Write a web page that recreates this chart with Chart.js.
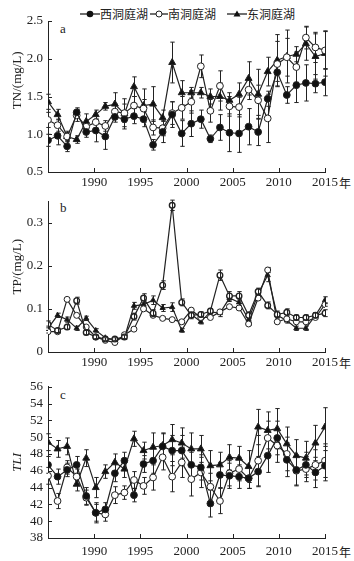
<!DOCTYPE html>
<html><head><meta charset="utf-8">
<script src="https://cdn.jsdelivr.net/npm/chart.js@4"></script>
<style>
html,body{margin:0;padding:0;background:#fff;width:354px;height:561px;overflow:hidden;position:relative;}
canvas{position:absolute;left:0;}
.leg{position:absolute;top:6px;height:16px;line-height:16px;font-family:"Noto Sans CJK SC",sans-serif;font-size:12px;color:#222;white-space:nowrap;}
.leg svg{position:absolute;top:3px;}
.plab{position:absolute;font-family:"Liberation Serif",serif;font-size:13px;color:#222;line-height:14px;}
.unit{position:absolute;left:339px;font-family:"Noto Sans CJK SC",sans-serif;font-size:12px;line-height:16px;color:#222;}
</style></head>
<body>
<div class="leg" style="left:80px;width:70px;"><svg width="20" height="10"><line x1="0" y1="5" x2="20" y2="5" stroke="#222" stroke-width="1.3"/><circle cx="10" cy="5" r="3.3" fill="#111"/></svg><span style="position:absolute;left:20px;">西洞庭湖</span></div>
<div class="leg" style="left:150px;width:70px;"><svg width="18" height="10"><line x1="0" y1="5" x2="18" y2="5" stroke="#222" stroke-width="1.3"/><circle cx="9" cy="5" r="3" fill="#fff" stroke="#222" stroke-width="1"/></svg><span style="position:absolute;left:18px;">南洞庭湖</span></div>
<div class="leg" style="left:227px;width:70px;"><svg width="20" height="10"><line x1="0" y1="5" x2="20" y2="5" stroke="#222" stroke-width="1.3"/><polygon points="10,1.5 13.5,7.5 6.5,7.5" fill="#111"/></svg><span style="position:absolute;left:20px;">东洞庭湖</span></div>
<div class="plab" style="left:60px;top:22px;">a</div>
<div class="plab" style="left:60px;top:201px;">b</div>
<div class="plab" style="left:60px;top:388px;">c</div>
<div class="unit" style="top:175px;">年</div>
<div class="unit" style="top:355px;">年</div>
<div class="unit" style="top:544px;">年</div>
<canvas id="cA" width="354" height="192" style="top:0px"></canvas>
<canvas id="cB" width="354" height="192" style="top:180px"></canvas>
<canvas id="cC" width="354" height="192" style="top:366px"></canvas>
<script>
// ---- data ----
const lakes = ['西洞庭湖', '南洞庭湖', '东洞庭湖'];
const years = [1986,1987,1988,1989,1990,1991,1992,1993,1994,1995,1996,1997,1998,1999,2000,2001,2002,2003,2004,2005,2006,2007,2008,2009,2010,2011,2012,2013,2014,2015];
const xTickYears = [1990, 1995, 2000, 2005, 2010, 2015];
const xTickLabels = ['1990', '1995', '2000', '2005', '2010', '2015'];

const westTN  = [0.92,0.98,0.84,1.29,1.03,1.05,0.97,1.23,1.20,1.24,1.20,0.86,1.03,1.26,1.01,1.14,1.20,0.94,1.09,1.02,1.01,1.10,1.03,1.47,1.82,1.52,1.65,1.68,1.67,1.69];
const southTN = [1.19,1.12,0.97,1.25,1.10,1.16,1.11,1.30,1.28,1.38,1.34,1.09,1.08,1.28,1.35,1.43,1.90,1.31,1.64,1.37,1.36,1.59,1.45,1.21,1.93,2.02,1.89,2.28,2.15,2.11];
const eastTN  = [1.43,1.26,0.97,0.93,1.17,1.26,1.37,1.40,1.27,1.63,1.38,1.40,1.22,1.95,1.55,1.55,1.55,1.50,1.50,1.45,1.53,1.74,1.53,1.83,1.98,2.03,2.06,2.20,2.03,2.07];
const westTNerr  = [0.08,0.12,0.07,0.06,0.07,0.15,0.17,0.07,0.10,0.10,0.10,0.07,0.14,0.17,0.17,0.17,0.12,0.05,0.17,0.25,0.25,0.24,0.18,0.10,0.12,0.11,0.23,0.24,0.12,0.18];
const southTNerr = [0.10,0.08,0.05,0.08,0.08,0.08,0.07,0.10,0.12,0.12,0.12,0.10,0.10,0.15,0.15,0.15,0.15,0.15,0.20,0.13,0.13,0.13,0.20,0.32,0.30,0.25,0.20,0.15,0.20,0.25];
const eastTNerr  = [0.10,0.07,0.07,0.05,0.10,0.06,0.05,0.15,0.20,0.13,0.22,0.23,0.10,0.27,0.16,0.07,0.07,0.10,0.18,0.10,0.15,0.22,0.33,0.19,0.34,0.35,0.10,0.22,0.30,0.30];

const westTP  = [0.064,0.050,0.058,0.119,0.045,0.035,0.030,0.030,0.035,0.082,0.125,0.090,0.155,0.340,0.115,0.085,0.087,0.095,0.178,0.130,0.130,0.085,0.140,0.108,0.087,0.092,0.080,0.080,0.085,0.090];
const southTP = [0.047,0.047,0.122,0.085,0.058,0.035,0.027,0.022,0.040,0.053,0.100,0.085,0.078,0.075,0.070,0.097,0.080,0.080,0.093,0.105,0.102,0.065,0.125,0.190,0.070,0.077,0.070,0.070,0.080,0.110];
const eastTP  = [0.055,0.085,0.075,0.055,0.078,0.050,0.033,0.028,0.033,0.107,0.110,0.120,0.102,0.104,0.050,0.087,0.070,0.093,0.090,0.125,0.115,0.075,0.135,0.178,0.085,0.073,0.055,0.055,0.085,0.120];
const westTPerr  = [0.008,0.005,0.006,0.008,0.005,0.004,0.003,0.003,0.004,0.008,0.010,0.008,0.010,0.012,0.008,0.008,0.006,0.006,0.012,0.010,0.010,0.008,0.008,0.008,0.008,0.008,0.006,0.006,0.006,0.008];
const southTPerr = [0.003,0.003,0.003,0.003,0.003,0.003,0.002,0.002,0.003,0.003,0.004,0.003,0.003,0.003,0.003,0.004,0.003,0.003,0.003,0.004,0.004,0.003,0.004,0.006,0.003,0.003,0.003,0.003,0.003,0.004];
const eastTPerr  = [0.005,0.005,0.006,0.005,0.005,0.004,0.003,0.003,0.003,0.008,0.010,0.010,0.008,0.010,0.004,0.006,0.005,0.006,0.008,0.008,0.008,0.006,0.008,0.015,0.006,0.006,0.005,0.005,0.006,0.008];

const westTLI  = [46.7,45.3,46.1,46.7,43.0,41.0,41.4,45.7,47.2,43.1,46.8,47.2,48.9,48.4,48.4,46.7,46.4,42.1,45.5,45.4,45.3,45.1,45.9,47.8,49.9,47.3,46.1,46.7,45.8,46.6];
const southTLI = [45.4,42.4,46.4,45.3,42.8,41.0,40.8,43.1,43.4,44.9,44.2,45.2,47.6,45.3,47.0,45.0,45.8,44.1,42.4,45.7,46.2,45.1,47.2,49.9,49.0,48.0,46.0,46.2,46.7,47.2];
const eastTLI  = [49.4,48.6,48.9,44.4,47.5,44.0,45.9,47.0,46.2,49.8,48.4,48.8,49.0,49.7,49.3,48.6,48.6,46.6,46.7,47.6,47.5,46.5,51.2,50.8,51.0,49.2,47.8,47.5,49.3,51.2];
const westTLIerr  = [1.0,0.9,0.8,1.0,1.0,1.2,0.8,1.0,1.0,0.8,1.0,1.5,1.5,1.8,1.8,1.5,1.5,1.6,1.5,1.5,1.4,1.2,1.8,2.0,2.0,2.0,1.8,1.5,1.8,1.8];
const southTLIerr = [1.0,0.9,0.8,0.9,0.9,1.0,0.8,1.0,0.8,1.0,1.0,1.5,1.5,1.8,1.8,2.0,1.8,1.6,1.5,1.5,1.4,1.2,3.0,2.0,2.0,2.0,1.8,1.5,1.8,2.0];
const eastTLIerr  = [1.0,1.0,1.0,0.8,1.0,1.2,0.8,1.0,1.0,0.9,1.0,1.7,1.5,1.8,1.8,1.9,1.6,1.8,1.5,1.5,1.4,1.9,2.1,2.2,2.4,2.0,1.9,2.0,2.1,2.3];

const yTicksA = [0.5, 1.0, 1.5, 2.0, 2.5];
const yTicksB = [0, 0.1, 0.2, 0.3];
const yTicksC = [38, 40, 42, 44, 46, 48, 50, 52, 54, 56];

// ---- helpers ----
const INK = '#222';
const FONT = "'Liberation Serif', 'Noto Sans CJK SC', serif";
Chart.defaults.font.family = FONT;
Chart.defaults.font.size = 13;
Chart.defaults.color = INK;

const nX = years.length - 1;
function yearToX(yr) { return (yr - (years[0] - 1)) * nX / (years.length); }
function pts(arr) { return arr.map((v, i) => ({ x: i, y: v })); }

const errPlugin = {
  id: 'errbars',
  _bars(chart, onTop) {
    const ctx = chart.ctx, xs = chart.scales.x, ys = chart.scales.y;
    ctx.save();
    ctx.strokeStyle = INK; ctx.lineWidth = 1;
    chart.data.datasets.forEach(ds => {
      if (!ds.errors || (!!ds.barsOnTop) !== onTop) return;
      ds.data.forEach((p, i) => {
        const e = ds.errors[i]; if (!e) return;
        const px = Math.round(xs.getPixelForValue(p.x)) + 0.5;
        const yt = ys.getPixelForValue(p.y + e), yb = ys.getPixelForValue(p.y - e);
        const cw = ds.capW || 2.2;
        ctx.beginPath();
        ctx.moveTo(px, yt); ctx.lineTo(px, yb);
        ctx.moveTo(px - cw, yt); ctx.lineTo(px + cw, yt);
        ctx.moveTo(px - cw, yb); ctx.lineTo(px + cw, yb);
        ctx.stroke();
      });
    });
    ctx.restore();
  },
  beforeDatasetsDraw(chart) { this._bars(chart, false); },
  afterDatasetsDraw(chart) {
    this._bars(chart, true);
    const ctx = chart.ctx, xs = chart.scales.x, ys = chart.scales.y, a = chart.chartArea;
    ctx.save(); ctx.strokeStyle = INK; ctx.lineWidth = 1;
    ctx.beginPath();
    xs.ticks.forEach(t => { const px = Math.round(xs.getPixelForValue(t.value)) + 0.5; ctx.moveTo(px, a.bottom); ctx.lineTo(px, a.bottom - 4); });
    ys.ticks.forEach(t => { const py = Math.round(ys.getPixelForValue(t.value)) + 0.5; ctx.moveTo(a.left, py); ctx.lineTo(a.left + 4, py); });
    ctx.stroke(); ctx.restore();
  }
};

function series(label, values, errs, style, r) {
  const base = {
    label, data: pts(values), errors: errs,
    borderColor: INK, borderWidth: 1.2, tension: 0,
    pointBorderColor: INK, pointBorderWidth: 1, pointRadius: r, pointHoverRadius: r
  };
  if (style === 'filled') Object.assign(base, { pointStyle: 'circle', pointBackgroundColor: '#111' });
  if (style === 'open') Object.assign(base, { pointStyle: 'circle', pointBackgroundColor: '#fff' });
  if (style === 'ring') Object.assign(base, { pointStyle: 'circle', pointBackgroundColor: '#fff', pointBorderWidth: 1.4, barsOnTop: true });
  if (style === 'tri') Object.assign(base, { pointStyle: 'triangle', pointBackgroundColor: '#111', pointRadius: r + 0.6 });
  return base;
}

function makePanel(id, datasets, yMin, yMax, yTicks, yFmt, title, padTop, xPad) {
  return new Chart(document.getElementById(id), {
    type: 'line',
    data: { datasets },
    plugins: [errPlugin],
    options: {
      responsive: false, animation: false, devicePixelRatio: 1,
      layout: { padding: { top: padTop, right: 29, left: 0, bottom: 0 } },
      plugins: { legend: { display: false }, tooltip: { enabled: false } },
      scales: {
        x: {
          type: 'linear', min: 0, max: nX,
          grid: { display: false, drawTicks: false },
          border: { display: true, color: INK, width: 1 },
          afterBuildTicks: s => { s.ticks = xTickYears.map(yr => ({ value: yearToX(yr) })); },
          afterFit: s => { s.height = 20; },
          ticks: { autoSkip: false, maxRotation: 0, padding: xPad, color: INK, font: { size: 13 },
                   callback: (v, i) => xTickLabels[i] }
        },
        y: {
          min: yMin, max: yMax,
          grid: { display: false, drawTicks: false },
          border: { display: true, color: INK, width: 1 },
          afterBuildTicks: s => { s.ticks = yTicks.map(v => ({ value: v })); },
          afterFit: s => { s.width = 48; },
          ticks: { autoSkip: false, padding: 5, color: INK, font: { size: 13 }, callback: (v, i) => yFmt(yTicks[i]) },
          title: { display: true, text: title.text, color: INK, padding: { top: 10, bottom: 0 },
                   font: { size: 13, style: title.italic ? 'italic' : 'normal' } }
        }
      }
    }
  });
}

makePanel('cA', [
  series(lakes[0], westTN, westTNerr, 'filled', 3.4),
  series(lakes[1], southTN, southTNerr, 'open', 3.4),
  series(lakes[2], eastTN, eastTNerr, 'tri', 3.4)
], 0.5, 2.5, yTicksA, v => v.toFixed(1), { text: '\u2003\u2003\u2002TN/(mg/L)' }, 21, 3);

makePanel('cB', [
  series(lakes[0], westTP, westTPerr, 'ring', 2.8),
  series(lakes[1], southTP, southTPerr, 'open', 3.0),
  series(lakes[2], eastTP, eastTPerr, 'tri', 2.4)
], 0, 0.35, yTicksB, v => (v === 0 ? '0' : v.toFixed(1)), { text: '\u2003\u2002TP/(mg/L)' }, 21, 3);

makePanel('cC', [
  series(lakes[0], westTLI, westTLIerr, 'filled', 3.4),
  series(lakes[1], southTLI, southTLIerr, 'open', 3.4),
  series(lakes[2], eastTLI, eastTLIerr, 'tri', 3.4)
], 38, 56, yTicksC, v => String(v), { text: 'TLI', italic: true }, 20.7, 6);
</script>
</body></html>
